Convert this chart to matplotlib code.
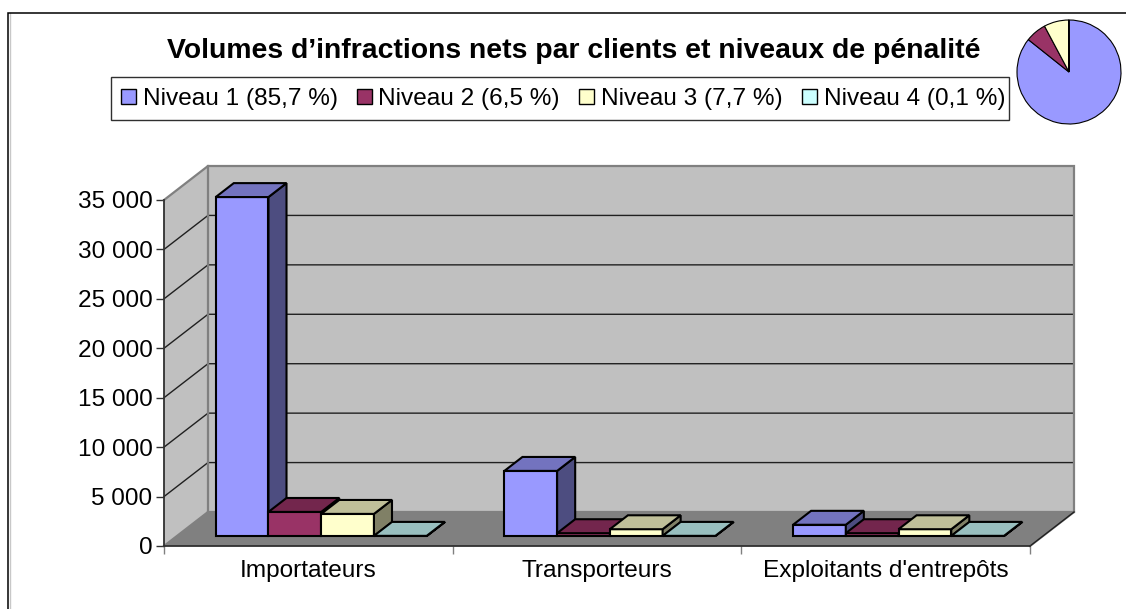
import matplotlib
matplotlib.use("Agg")
import matplotlib.pyplot as plt
from matplotlib.patches import Polygon, Patch, Rectangle
from matplotlib.colors import to_rgb

plt.rcParams['font.family'] = ['Liberation Sans', 'DejaVu Sans']

# ---- data ----
categories = ["Importateurs", "Transporteurs", "Exploitants d'entrepôts"]
series_names = ["Niveau 1 (85,7 %)", "Niveau 2 (6,5 %)", "Niveau 3 (7,7 %)", "Niveau 4 (0,1 %)"]
niveau1 = [34300, 6600, 1150]
niveau2 = [2450, 300, 300]
niveau3 = [2250, 700, 700]
niveau4 = [30, 30, 30]
pie_share = [85.7, 6.5, 7.7, 0.1]
y_ticks = [0, 5000, 10000, 15000, 20000, 25000, 30000, 35000]
title = "Volumes d’infractions nets par clients et niveaux de pénalité"

# ---- style ----
colors = ["#9999FF", "#993366", "#FFFFCC", "#CCFFFF"]
W, H = 1126, 609
YMAX = 35000
# 3D projection: depth z in 0..1 shifts a point right and up
DX = 44 / 288.67          # category units per unit of depth
DY = 34 / 346 * YMAX      # value units per unit of depth
BAR_W = 0.1827
GAP = 0.135
Z0, Z1 = 0.29, 0.70
FS = 17.6


def px_rect(l, t, r, b):
    return [l / W, 1 - b / H, (r - l) / W, (b - t) / H]


def shade(c, f):
    return tuple(v * f for v in to_rgb(c))


def P(x, y, z):
    return (x + z * DX, y + z * DY)


fig = plt.figure(figsize=(W / 100, H / 100), dpi=100, facecolor="white")

# outer frame: only top and left edges are visible in the crop
bg = fig.add_axes([0, 0, 1, 1], zorder=0)
bg.set_xlim(0, W); bg.set_ylim(H, 0); bg.axis("off")
bg.plot([9.5, 9.5], [H, 12.5], color="#C8C8C8", lw=1, zorder=1)
bg.plot([8.2, 8.2, W], [H, 12.5, 12.5], color="black", lw=1.1, zorder=2,
        solid_joinstyle="miter")
# legend box
bg.add_patch(Rectangle((110.5, 76.5), 898, 43.5, fc="white", ec="#303030", lw=1, zorder=3))

ax = fig.add_axes(px_rect(164, 200, 1030, 546), zorder=1)
ax.set_xlim(0, len(categories))
ax.set_ylim(0, YMAX)
ax.patch.set_visible(False)
for s in ("top", "right"):
    ax.spines[s].set_visible(False)
for s in ("left", "bottom"):
    ax.spines[s].set_color("#303030")
    ax.spines[s].set_linewidth(1.3)
    ax.spines[s].set_zorder(3)


def poly(pts, fc, ec="none", lw=0, z=1):
    ax.add_patch(Polygon(pts, closed=True, fc=fc, ec=ec, lw=lw, zorder=z,
                         clip_on=False, joinstyle="miter"))


n = len(categories)
# walls and floor
poly([P(0, 0, 0), P(0, YMAX, 0), P(0, YMAX, 1), P(0, 0, 1)], "#C0C0C0")
poly([P(0, 0, 1), P(0, YMAX, 1), P(n, YMAX, 1), P(n, 0, 1)], "#C0C0C0")
poly([P(0, 0, 0), P(0, 0, 1), P(n, 0, 1), P(n, 0, 0)], "#808080")

# gridlines
for v in y_ticks[1:-1]:
    a, b, c = P(0, v, 0), P(0, v, 1), P(n, v, 1)
    ax.plot([a[0], b[0], c[0]], [a[1], b[1], c[1]], color="#202020", lw=1,
            clip_on=False, zorder=1.5, solid_joinstyle="miter")
# wall outlines
for pts in ([P(0, YMAX, 0), P(0, YMAX, 1), P(n, YMAX, 1), P(n, 0, 1), P(n, 0, 0)],
            [P(0, 0, 1), P(0, YMAX, 1)], [P(0, 0, 1), P(n, 0, 1)], [P(0, 0, 0), P(0, 0, 1)]):
    ax.plot(*zip(*pts), color="#808080", lw=1.6, clip_on=False, zorder=1.6,
            solid_joinstyle="miter")
r0, r1 = P(n, 0, 1), P(n, 0, 0)
ax.plot([r0[0], r1[0]], [r0[1], r1[1]], color="#202020", lw=1, clip_on=False, zorder=1.7)

# bars, painted left to right
for c_i in range(n):
    for s_i, vals in enumerate([niveau1, niveau2, niveau3, niveau4]):
        x0 = c_i + GAP + s_i * BAR_W
        x1 = x0 + BAR_W
        v = vals[c_i]
        col = colors[s_i]
        z = 2 + c_i * 10 + s_i
        kw = dict(ec="black", lw=1.5, z=z)
        poly([P(x0, 0, Z0), P(x1, 0, Z0), P(x1, v, Z0), P(x0, v, Z0)], col, **kw)
        poly([P(x1, 0, Z0), P(x1, 0, Z1), P(x1, v, Z1), P(x1, v, Z0)], shade(col, 0.5), **kw)
        poly([P(x0, v, Z0), P(x1, v, Z0), P(x1, v, Z1), P(x0, v, Z1)], shade(col, 0.75), **kw)

ax.set_yticks(y_ticks)
ax.set_yticklabels([f"{v:,}".replace(",", " ") for v in y_ticks], fontsize=FS)
ax.set_xticks(range(n + 1))
ax.set_xticklabels([""] * (n + 1))
ax.tick_params(axis="y", length=6, width=1, color="#303030", pad=2.3)
ax.tick_params(axis="x", length=6, width=1, color="#808080")
for i, c in enumerate(categories):
    ax.annotate(c, (i + 0.5, 0), xytext=(0, -25), xycoords="data", textcoords="offset pixels",
                ha="center", va="center", fontsize=FS, annotation_clip=False)

# title
bg.text(574, 51.5, title, ha="center", va="center", fontsize=20.45, fontweight="bold", zorder=5)

# legend
handles = [Patch(fc=c, ec="black", lw=1) for c in colors]
leg = fig.legend(handles, series_names, ncols=4, loc="upper left",
                 bbox_to_anchor=(110 / W, 1 - 121 / H, 906 / W, 44 / H), mode="expand",
                 borderaxespad=0, fontsize=FS, frameon=False,
                 handlelength=0.6, handleheight=0.6,
                 handletextpad=0.28, columnspacing=0.5, borderpad=0.45)

# pie inset
pie_ax = fig.add_axes(px_rect(1017, 20, 1121, 124), zorder=2)
pie_ax.pie(pie_share, colors=colors, startangle=90, counterclock=False, radius=1,
           wedgeprops=dict(ec="black", lw=0.8))
pie_ax.set_xlim(-1, 1); pie_ax.set_ylim(-1, 1)
for w in pie_ax.patches:
    w.set_clip_on(False)

fig.savefig("out.png", dpi=100)
